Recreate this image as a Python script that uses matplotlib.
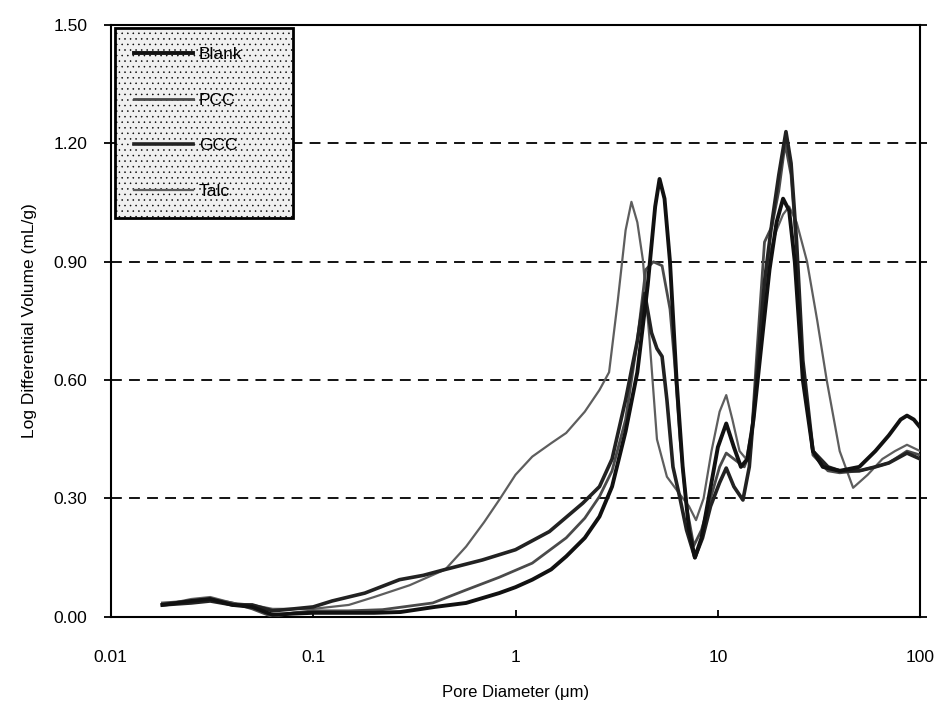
import numpy as np
import matplotlib
matplotlib.use('Agg')
import matplotlib.pyplot as plt

plt.rcParams['font.family'] = ['Liberation Sans', 'DejaVu Sans']
plt.rcParams['hatch.linewidth'] = 0.35

# pore diameter (um) and log differential volume (mL/g)
blank_x = [0.018, 0.025, 0.031, 0.04, 0.05, 0.063, 0.08, 0.1, 0.15, 0.2, 0.27, 0.4, 0.57, 0.83, 1.0,
           1.21, 1.5, 1.78, 2.2, 2.6, 3.0, 3.5, 4.0, 4.5, 4.9, 5.15, 5.45, 5.8, 6.25, 6.7, 7.2, 7.7,
           8.3, 9.0, 10.0, 11.0, 12.0, 13.0, 14.0, 15.0, 16.5, 18.0, 19.5, 21.0, 22.5, 24.0, 26.3,
           29.5, 33, 40, 50, 60, 70, 80, 86, 93, 100]
blank_y = [0.03, 0.04, 0.045, 0.03, 0.025, 0.005, 0.008, 0.01, 0.01, 0.01, 0.012, 0.025, 0.035, 0.06, 0.075,
           0.094, 0.12, 0.153, 0.2, 0.254, 0.33, 0.47, 0.62, 0.84, 1.04, 1.11, 1.06, 0.9, 0.6, 0.38, 0.22, 0.15,
           0.2, 0.3, 0.43, 0.49, 0.43, 0.38, 0.40, 0.5, 0.7, 0.88, 1.0, 1.06, 1.03, 0.9, 0.6,
           0.42, 0.38, 0.37, 0.38, 0.42, 0.46, 0.5, 0.51, 0.5, 0.48]

pcc_x = [0.018, 0.025, 0.031, 0.04, 0.05, 0.063, 0.08, 0.1, 0.15, 0.22, 0.39, 0.57, 0.83, 1.21, 1.78,
         2.2, 2.6, 3.0, 3.5, 4.0, 4.4, 4.8, 5.3, 5.8, 6.1, 6.5, 7.0, 7.6, 8.3, 9.2, 10.2, 11.0, 12.0,
         13.5, 14.5, 15.5, 17.0, 18.5, 20.0, 21.5, 23, 24.5, 26.3, 29.5, 35, 40, 50, 60, 70, 86, 100]
pcc_y = [0.035, 0.04, 0.045, 0.035, 0.02, 0.0, 0.01, 0.015, 0.015, 0.018, 0.035, 0.068, 0.1, 0.136, 0.2,
         0.25, 0.305, 0.37, 0.5, 0.7, 0.88, 0.9, 0.89, 0.78, 0.65, 0.45, 0.28, 0.18, 0.22, 0.3, 0.38, 0.415, 0.40,
         0.38, 0.42, 0.65, 0.95, 0.99, 1.08, 1.2, 1.12, 0.93, 0.63, 0.41, 0.37, 0.365, 0.37, 0.38, 0.39, 0.42, 0.41]

gcc_x = [0.018, 0.025, 0.031, 0.04, 0.05, 0.063, 0.08, 0.1, 0.124, 0.18, 0.267, 0.35, 0.45, 0.686, 1.0,
         1.47, 2.15, 2.6, 3.0, 3.5, 4.0, 4.35, 4.7, 5.0, 5.3, 5.6, 6.0, 6.5, 7.0, 7.7, 8.4, 9.2, 10.2,
         11.0, 12.0, 13.3, 14.3, 15.5, 17.0, 18.5, 20.0, 21.7, 23.0, 24.5, 26.3, 29.5, 35, 40, 50, 60,
         70, 86, 100]
gcc_y = [0.03, 0.035, 0.04, 0.03, 0.03, 0.015, 0.02, 0.025, 0.04, 0.06, 0.094, 0.105, 0.12, 0.144, 0.17,
         0.216, 0.288, 0.33, 0.4, 0.55, 0.7, 0.82, 0.72, 0.68, 0.66, 0.55, 0.38, 0.3, 0.22, 0.15, 0.2, 0.28, 0.34,
         0.377, 0.33, 0.296, 0.38, 0.6, 0.85, 1.0, 1.12, 1.23, 1.15, 0.95, 0.65, 0.42, 0.38, 0.37, 0.37, 0.38,
         0.39, 0.415, 0.40]

talc_x = [0.018, 0.025, 0.031, 0.04, 0.05, 0.063, 0.08, 0.1, 0.15, 0.2, 0.3, 0.45, 0.57, 0.7, 0.83, 1.0,
          1.21, 1.5, 1.78, 2.2, 2.6, 2.9, 3.2, 3.5, 3.74, 4.0, 4.26, 4.6, 5.0, 5.6, 6.5, 7.2, 7.8, 8.5,
          9.3, 10.2, 11.0, 11.8, 12.8, 13.8, 15.0, 16.5, 18.0, 19.5, 21.0, 22.5, 24.5, 27.6, 31, 34.5,
          40, 46.6, 55, 65, 75, 86, 100]
talc_y = [0.03, 0.045, 0.05, 0.035, 0.03, 0.02, 0.02, 0.02, 0.03, 0.05, 0.08, 0.12, 0.178, 0.24, 0.296, 0.36,
          0.406, 0.44, 0.466, 0.52, 0.575, 0.62, 0.8, 0.98, 1.052, 1.0, 0.905, 0.7, 0.45, 0.355, 0.31, 0.28, 0.245, 0.3,
          0.42, 0.52, 0.562, 0.5, 0.42, 0.4, 0.5, 0.72, 0.92, 0.98, 1.02, 1.04, 1.0, 0.9, 0.75, 0.6,
          0.42, 0.327, 0.36, 0.4, 0.42, 0.436, 0.42]

y_ticks = [0.0, 0.3, 0.6, 0.9, 1.2, 1.5]
x_ticks = [0.01, 0.1, 1, 10, 100]
x_labels = ['0.01', '0.1', '1', '10', '100']

fig = plt.figure(figsize=(9.39, 7.18), dpi=100)
ax = fig.add_axes([0.118, 0.141, 0.862, 0.824])

ax.plot(blank_x, blank_y, color='#111111', lw=2.8, label='Blank', zorder=5)
ax.plot(pcc_x, pcc_y, color='#4a4a4a', lw=2.0, label='PCC', zorder=4)
ax.plot(gcc_x, gcc_y, color='#222222', lw=2.6, label='GCC', zorder=4)
ax.plot(talc_x, talc_y, color='#5e5e5e', lw=1.6, label='Talc', zorder=3)

ax.set_xscale('log')
ax.set_xlim(0.01, 100)
ax.set_ylim(0, 1.5)
ax.set_xticks(x_ticks)
ax.set_xticklabels(x_labels)
ax.xaxis.set_minor_locator(matplotlib.ticker.NullLocator())
ax.set_yticks(y_ticks)
ax.set_yticklabels(['%.2f' % v for v in y_ticks])

ax.yaxis.grid(True, linestyle=(0, (6, 4)), color='black', lw=1.3)
ax.set_axisbelow(True)
for s in ax.spines.values():
    s.set_linewidth(1.5)

ax.tick_params(axis='x', direction='in', length=5, width=1.3, pad=24, labelsize=12.5)
ax.tick_params(axis='y', direction='out', length=5, width=1.3, pad=12, labelsize=12.5,
               right=True)

ax.set_xlabel('Pore Diameter (μm)', fontsize=12, labelpad=14)
ax.set_ylabel('Log Differential Volume (mL/g)', fontsize=12.5, labelpad=12)

leg = ax.legend(loc='upper left', bbox_to_anchor=(0.005, 0.677, 0.22, 0.318), mode='expand',
                borderaxespad=0, fontsize=12.5, handlelength=3.4, handletextpad=0.35,
                labelspacing=1.75, borderpad=1.1, fancybox=False, edgecolor='black',
                framealpha=1)
frame = leg.get_frame()
frame.set_linewidth(2.0)
frame.set_facecolor('#f0f0f0')
frame.set_hatch('...')

fig.savefig('out.png', dpi=100)
